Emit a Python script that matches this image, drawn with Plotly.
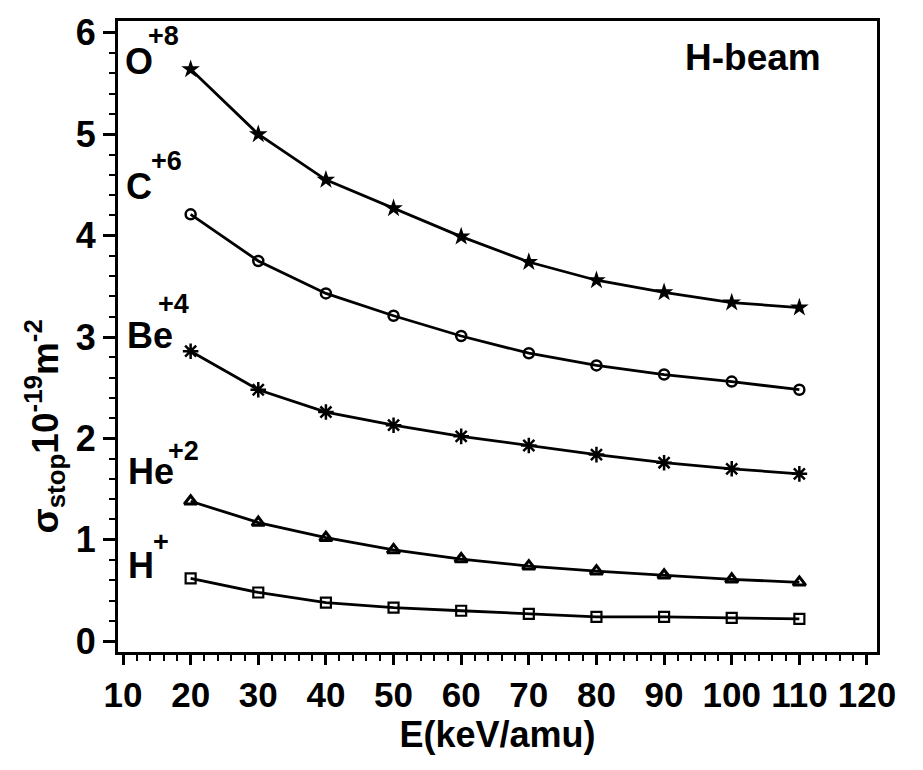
import plotly.graph_objects as go

energy = [20, 30, 40, 50, 60, 70, 80, 90, 100, 110]
o8 = [5.64, 5.00, 4.55, 4.27, 3.99, 3.74, 3.56, 3.44, 3.34, 3.29]
c6 = [4.21, 3.75, 3.43, 3.21, 3.01, 2.84, 2.72, 2.63, 2.56, 2.48]
be4 = [2.86, 2.48, 2.26, 2.13, 2.02, 1.93, 1.84, 1.76, 1.70, 1.65]
he2 = [1.38, 1.17, 1.02, 0.90, 0.81, 0.74, 0.69, 0.65, 0.61, 0.58]
h1 = [0.62, 0.48, 0.38, 0.33, 0.30, 0.27, 0.24, 0.24, 0.23, 0.22]

x_ticks = [10, 20, 30, 40, 50, 60, 70, 80, 90, 100, 110, 120]
y_ticks = [0, 1, 2, 3, 4, 5, 6]

FONT = "Liberation Sans, Arial, Helvetica, sans-serif"

series = [
    ("O+8", o8, dict(symbol="star", size=14, color="black")),
    ("C+6", c6, dict(symbol="circle-open", size=10, color="black", line=dict(width=2.5, color="black"))),
    ("Be+4", be4, dict(symbol="asterisk-open", size=13, color="black", line=dict(width=2.5, color="black"))),
    ("He+2", he2, dict(symbol="triangle-up-open", size=11, color="black", line=dict(width=3, color="black"))),
    ("H+", h1, dict(symbol="square-open", size=10, color="black", line=dict(width=2.2, color="black"))),
]

fig = go.Figure()
for name, vals, mk in series:
    fig.add_trace(go.Scatter(x=energy, y=vals, mode="lines+markers", name=name,
                             line=dict(color="black", width=2.8), marker=mk,
                             showlegend=False))

base_labels = [("O", 12.4, 5.72), ("C", 12.4, 4.48), ("Be", 14.0, 3.01),
               ("He", 14.1, 1.67), ("H", 12.7, 0.75)]
sup_labels = [("+8", 16.06, 5.97), ("+6", 16.36, 4.74), ("+4", 17.4, 3.33),
              ("+2", 19.0, 1.88), ("+", 15.6, 0.98)]

annotations = []
for t, x, y in base_labels:
    annotations.append(dict(text=t, x=x, y=y, xref="x", yref="y", showarrow=False,
                            xanchor="center", yanchor="middle",
                            font=dict(family=FONT, size=36, color="black", weight="bold")))
for t, x, y in sup_labels:
    annotations.append(dict(text=t, x=x, y=y, xref="x", yref="y", showarrow=False,
                            xanchor="center", yanchor="middle",
                            font=dict(family=FONT, size=27, color="black", weight="bold")))

annotations.append(dict(text="H-beam", x=103.1, y=5.76, xref="x", yref="y", showarrow=False,
                        xanchor="center", yanchor="middle",
                        font=dict(family=FONT, size=37, color="black", weight="bold")))
annotations.append(dict(text="σ<sub>stop</sub>10<sup>-19</sup>m<sup>-2</sup>",
                        x=-0.097, y=2.12, xref="paper", yref="y", showarrow=False,
                        textangle=-90, xanchor="center", yanchor="middle",
                        font=dict(family=FONT, size=37, color="black", weight="bold")))

fig.update_layout(
    width=923, height=770,
    margin=dict(l=110, r=54, t=5, b=126),
    paper_bgcolor="white", plot_bgcolor="white",
    font=dict(family=FONT, color="black"),
    annotations=annotations,
    xaxis=dict(range=[9.26, 121.48], tickvals=x_ticks, ticks="outside", ticklen=10,
               tickwidth=2.5, tickcolor="black", showline=True, linewidth=3, linecolor="black",
               mirror=True, showgrid=False, zeroline=False, ticklabeloverflow="allow",
               tickfont=dict(family=FONT, size=35, color="black", weight="bold"),
               minor=dict(dtick=2, tick0=10, ticks="outside", ticklen=6, tickwidth=2, tickcolor="black"),
               title=dict(text="E(keV/amu)", standoff=4,
                          font=dict(family=FONT, size=36, color="black", weight="bold"))),
    yaxis=dict(range=[-0.107, 6.117], tickvals=y_ticks, ticks="outside", ticklen=12,
               tickwidth=2.5, tickcolor="black", showline=True, linewidth=3, linecolor="black",
               mirror=True, showgrid=False, zeroline=False, ticklabeloverflow="allow",
               tickfont=dict(family=FONT, size=36, color="black", weight="bold"),
               minor=dict(dtick=0.2, tick0=0, ticks="outside", ticklen=6, tickwidth=2, tickcolor="black")),
)

fig.write_html("out.html")
